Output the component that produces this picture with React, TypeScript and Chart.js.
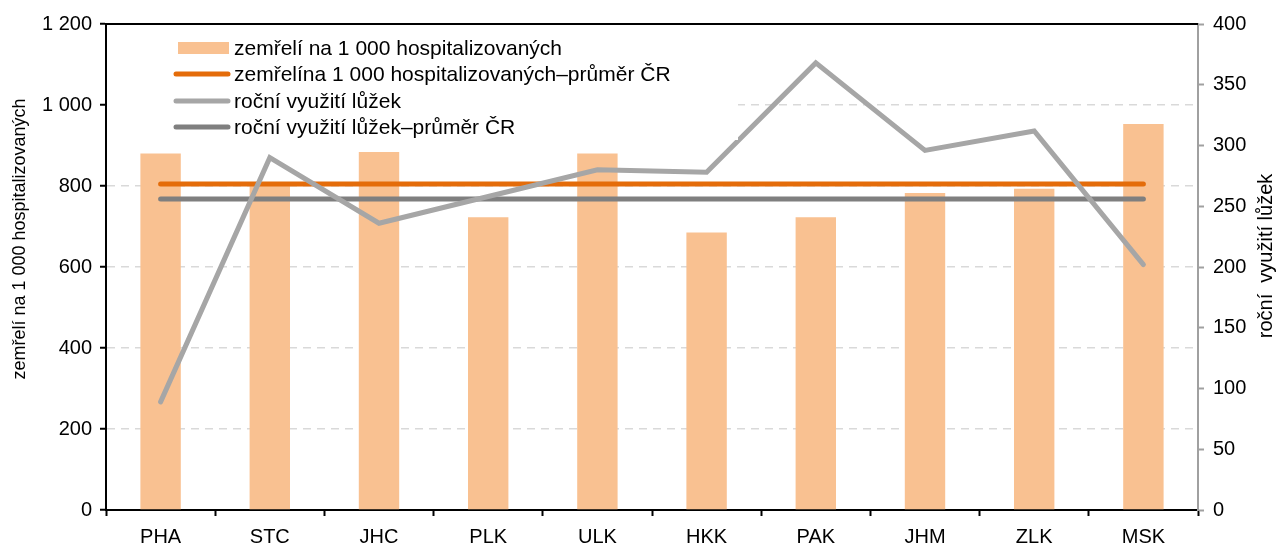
import React, { useEffect, useRef } from "react";
import { Chart, registerables } from "chart.js";

Chart.register(...registerables);

const regions = ["PHA", "STC", "JHC", "PLK", "ULK", "HKK", "PAK", "JHM", "ZLK", "MSK"];
const deathsPer1000 = [880, 800, 884, 723, 880, 685, 723, 783, 793, 953];
const deathsAvgCR = [805, 805, 805, 805, 805, 805, 805, 805, 805, 805];
const bedUse = [89, 290, 236, 258, 280, 278, 368, 296, 312, 202];
const bedUseAvgCR = [256, 256, 256, 256, 256, 256, 256, 256, 256, 256];

const leftTickLabels = ["0", "200", "400", "600", "800", "1 000", "1 200"];
const rightTickLabels = ["0", "50", "100", "150", "200", "250", "300", "350", "400"];

const legendLabels = [
  "zemřelí na 1 000 hospitalizovaných",
  "zemřelína 1 000 hospitalizovaných–průměr ČR",
  "roční využití lůžek",
  "roční využití lůžek–průměr ČR",
];
const leftTitle = "zemřelí na 1 000 hospitalizovaných";
const rightTitle = "roční  využití lůžek";

const FONT = "'Liberation Sans', Arial, sans-serif";
const BAR = "#F9C191";
const ORANGE = "#E46C0A";
const DARK = "#7F7F7F";
const LIGHT = "#A6A6A6";

const decorPlugin = {
  id: "decor",
  beforeDatasetsDraw(chart: any) {
    const { ctx, chartArea } = chart;
    ctx.save();
    ctx.strokeStyle = "#000";
    ctx.lineWidth = 2;
    ctx.beginPath();
    ctx.moveTo(chartArea.left - 1, chartArea.top);
    ctx.lineTo(chartArea.right, chartArea.top);
    ctx.stroke();
    ctx.restore();
  },
  afterDatasetsDraw(chart: any) {
    const { ctx, chartArea } = chart;
    ctx.save();
    ctx.fillStyle = "#fff";
    ctx.fillRect(chartArea.left + 1, chartArea.top + 3, 738 - chartArea.left - 1, 140 - chartArea.top - 3);
    const rows = [48, 74, 101, 127];
    const colors = [BAR, ORANGE, LIGHT, DARK];
    ctx.font = `21px ${FONT}`;
    ctx.textBaseline = "middle";
    ctx.textAlign = "left";
    rows.forEach((y, i) => {
      if (i === 0) {
        ctx.fillStyle = colors[i];
        ctx.fillRect(178, y - 6, 51, 12);
      } else {
        ctx.strokeStyle = colors[i];
        ctx.lineWidth = 5;
        ctx.lineCap = "round";
        ctx.beginPath();
        ctx.moveTo(176, y);
        ctx.lineTo(228, y);
        ctx.stroke();
      }
      ctx.fillStyle = "#000";
      ctx.fillText(legendLabels[i], 234, y + 1);
    });
    ctx.restore();
  },
  afterDraw(chart: any) {
    const { ctx } = chart;
    ctx.save();
    ctx.fillStyle = "#000";
    ctx.font = `18px ${FONT}`;
    ctx.textAlign = "center";
    ctx.textBaseline = "middle";
    ctx.translate(20, 239);
    ctx.rotate(-Math.PI / 2);
    ctx.fillText(leftTitle, 0, 0);
    ctx.restore();
    ctx.save();
    ctx.fillStyle = "#000";
    ctx.font = `20px ${FONT}`;
    ctx.textAlign = "center";
    ctx.textBaseline = "middle";
    ctx.translate(1266, 256);
    ctx.rotate(-Math.PI / 2);
    ctx.fillText(rightTitle, 0, 0);
    ctx.restore();
  },
};

export default function App() {
  const ref = useRef<HTMLCanvasElement>(null);
  useEffect(() => {
    document.body.style.margin = "0";
    const canvas = ref.current!;
    const chart = new Chart(canvas, {
      data: {
        labels: regions,
        datasets: [
          {
            type: "bar",
            label: legendLabels[0],
            data: deathsPer1000,
            backgroundColor: BAR,
            yAxisID: "y",
            order: 4,
            categoryPercentage: 1,
            barPercentage: 0.37,
          },
          {
            type: "line",
            label: legendLabels[1],
            data: deathsAvgCR,
            borderColor: ORANGE,
            borderWidth: 5,
            borderCapStyle: "round",
            pointRadius: 0,
            yAxisID: "y",
            order: 3,
          },
          {
            type: "line",
            label: legendLabels[3],
            data: bedUseAvgCR,
            borderColor: DARK,
            borderWidth: 5,
            borderCapStyle: "round",
            pointRadius: 0,
            yAxisID: "y1",
            order: 2,
          },
          {
            type: "line",
            label: legendLabels[2],
            data: bedUse,
            borderColor: LIGHT,
            borderWidth: 5,
            borderCapStyle: "round",
            borderJoinStyle: "miter",
            pointRadius: 0,
            tension: 0,
            yAxisID: "y1",
            order: 1,
          },
        ],
      } as any,
      options: {
        responsive: false,
        animation: false,
        layout: { padding: { top: 24, left: 0, right: 0, bottom: 0 } },
        plugins: { legend: { display: false }, tooltip: { enabled: false } },
        scales: {
          x: {
            offset: true,
            grid: {
              offset: true,
              drawOnChartArea: false,
              drawTicks: true,
              tickLength: 6,
              tickColor: "#000",
              tickWidth: 2,
            },
            border: { display: true, color: "#000", width: 2 },
            ticks: { color: "#000", font: { family: FONT, size: 20 }, padding: 9, maxRotation: 0 },
            afterFit(scale: any) {
              scale.height = 35;
            },
          },
          y: {
            position: "left",
            min: 0,
            max: 1200,
            ticks: {
              stepSize: 200,
              color: "#000",
              font: { family: FONT, size: 20 },
              padding: 8,
              callback: (_v: any, i: number) => leftTickLabels[i],
            },
            grid: {
              color: (c: any) =>
                c.tick && (c.tick.value === 0 || c.tick.value === 1200) ? "rgba(0,0,0,0)" : "#D9D9D9",
              lineWidth: 1.5,
              tickColor: "#000",
              tickWidth: 2,
              tickLength: 6,
            },
            border: { display: true, color: "#000", width: 2, dash: [8, 6] },
            afterFit(scale: any) {
              scale.width = 106;
            },
          },
          y1: {
            position: "right",
            min: 0,
            max: 400,
            ticks: {
              stepSize: 50,
              color: "#000",
              font: { family: FONT, size: 20 },
              padding: 9,
              callback: (_v: any, i: number) => rightTickLabels[i],
            },
            grid: {
              drawOnChartArea: false,
              tickColor: "#A0A0A0",
              tickWidth: 2,
              tickLength: 6,
            },
            border: { display: true, color: "#A0A0A0", width: 2 },
            afterFit(scale: any) {
              scale.width = 83;
            },
          },
        },
      } as any,
      plugins: [decorPlugin],
    });
    return () => chart.destroy();
  }, []);
  return (
    <div style={{ position: "absolute", left: 0, top: 0, width: 1281, height: 545 }}>
      <canvas ref={ref} width={1281} height={545} style={{ width: 1281, height: 545 }} />
    </div>
  );
}
